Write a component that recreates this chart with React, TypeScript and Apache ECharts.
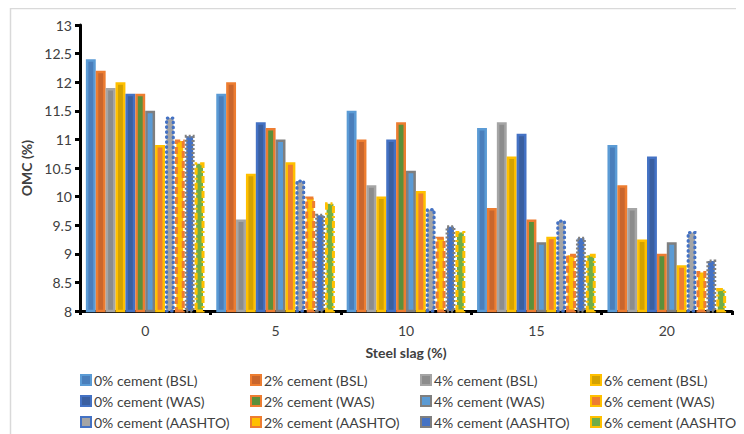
import React, { useEffect, useRef } from "react";
import * as echarts from "echarts";

// Steel slag content (%) on the category axis
const slagLevels = ["0", "5", "10", "15", "20"];

// Optimum moisture content (%) per compaction method and cement content
const bsl0 = [12.4, 11.8, 11.5, 11.2, 10.9];
const bsl2 = [12.2, 12.0, 11.0, 9.8, 10.2];
const bsl4 = [11.9, 9.6, 10.2, 11.3, 9.8];
const bsl6 = [12.0, 10.4, 10.0, 10.7, 9.25];
const was0 = [11.8, 11.3, 11.0, 11.1, 10.7];
const was2 = [11.8, 11.2, 11.3, 9.6, 9.0];
const was4 = [11.5, 11.0, 10.45, 9.2, 9.2];
const was6 = [10.9, 10.6, 10.1, 9.3, 8.8];
const aashto0 = [11.4, 10.3, 9.8, 9.6, 9.4];
const aashto2 = [11.0, 10.0, 9.3, 9.0, 8.7];
const aashto4 = [11.08, 9.7, 9.5, 9.3, 8.9];
const aashto6 = [10.6, 9.9, 9.4, 9.0, 8.4];

const yTicks = { min: 8, max: 13, interval: 0.5 };

type Style = { fill: string; stroke: string; dash: "solid" | number[]; cap?: "round" | "butt"; width?: number };

const seriesDefs: { name: string; data: number[]; style: Style }[] = [
  { name: "0% cement (BSL)", data: bsl0, style: { fill: "#4A7EBB", stroke: "#5B9BD5", dash: "solid" } },
  { name: "2% cement (BSL)", data: bsl2, style: { fill: "#C9662D", stroke: "#ED7D31", dash: "solid" } },
  { name: "4% cement (BSL)", data: bsl4, style: { fill: "#8C8C8C", stroke: "#A5A5A5", dash: "solid" } },
  { name: "6% cement (BSL)", data: bsl6, style: { fill: "#D4A200", stroke: "#FFC000", dash: "solid" } },
  { name: "0% cement (WAS)", data: was0, style: { fill: "#3A5FA0", stroke: "#4472C4", dash: "solid" } },
  { name: "2% cement (WAS)", data: was2, style: { fill: "#5B8F3A", stroke: "#ED7D31", dash: "solid" } },
  { name: "4% cement (WAS)", data: was4, style: { fill: "#5B9BD5", stroke: "#7F7F7F", dash: "solid" } },
  { name: "6% cement (WAS)", data: was6, style: { fill: "#ED7D31", stroke: "#FFC000", dash: "solid" } },
  { name: "0% cement (AASHTO)", data: aashto0, style: { fill: "#A5A5A5", stroke: "#4472C4", dash: [0.5, 4.5], cap: "round", width: 3.2 } },
  { name: "2% cement (AASHTO)", data: aashto2, style: { fill: "#FFC000", stroke: "#ED7D31", dash: [7, 3], width: 3 } },
  { name: "4% cement (AASHTO)", data: aashto4, style: { fill: "#4472C4", stroke: "#7F7F7F", dash: [2, 2], width: 3 } },
  { name: "6% cement (AASHTO)", data: aashto6, style: { fill: "#70AD47", stroke: "#FFC000", dash: [7, 3, 2, 3], width: 3 } },
];

const FONT = "Lato, 'Open Sans', sans-serif";
const TEXT = "#404040";

export default function App() {
  const ref = useRef<HTMLDivElement>(null);

  useEffect(() => {
    if (!ref.current) return;
    const chart = echarts.init(ref.current, undefined, { renderer: "svg" });

    // Four legend columns, three rows each (BSL, WAS, AASHTO)
    const legendCols = [0, 1, 2, 3].map((c) => ({
      orient: "vertical" as const,
      left: [72, 242, 412, 582][c],
      top: 365,
      padding: 0,
      itemGap: 7,
      itemWidth: 10,
      itemHeight: 10,
      icon: "rect",
      textStyle: { fontFamily: FONT, fontSize: 14, color: TEXT, padding: [0, 0, 0, -2] },
      data: [0, 4, 8].map((r) => seriesDefs[r + c].name),
    }));

    chart.setOption({
      animation: false,
      backgroundColor: "#ffffff",
      textStyle: { fontFamily: FONT },
      graphic: [
        {
          type: "rect",
          shape: { x: 2.5, y: 0.5, width: 760, height: 460 },
          style: { fill: "none", stroke: "#D9D9D9", lineWidth: 1.5 },
          silent: true,
        },
      ],
      legend: legendCols,
      grid: { left: 72, right: 12, top: 17, bottom: 123 },
      xAxis: {
        type: "category",
        data: slagLevels,
        name: "Steel slag (%)",
        nameLocation: "middle",
        nameGap: 34,
        nameTextStyle: { fontFamily: FONT, fontSize: 14, fontWeight: "bold", color: TEXT },
        axisLine: { lineStyle: { color: "#000", width: 3 } },
        axisTick: { show: true, alignWithLabel: false, length: 4, lineStyle: { color: "#000", width: 3 } },
        axisLabel: { fontFamily: FONT, fontSize: 14, color: TEXT, margin: 12 },
      },
      yAxis: {
        type: "value",
        min: yTicks.min,
        max: yTicks.max,
        interval: yTicks.interval,
        name: "OMC (%)",
        nameLocation: "middle",
        nameGap: 44,
        nameTextStyle: { fontFamily: FONT, fontSize: 14, fontWeight: "bold", color: TEXT },
        axisLine: { show: true, lineStyle: { color: "#000", width: 3 } },
        axisTick: { show: true, length: 5, lineStyle: { color: "#000", width: 3 } },
        axisLabel: { fontFamily: FONT, fontSize: 14, color: TEXT, margin: 8 },
        splitLine: { show: false },
      },
      series: seriesDefs.map((s) => ({
        name: s.name,
        type: "bar",
        data: s.data,
        barGap: "0%",
        barCategoryGap: "9%",
        itemStyle: {
          color: s.style.fill,
          borderColor: s.style.stroke,
          borderWidth: s.style.width || 2.5,
          borderType: s.style.dash,
          borderCap: s.style.cap || "butt",
        },
      })),
    });

    return () => chart.dispose();
  }, []);

  return <div ref={ref} style={{ width: 736, height: 426 }} />;
}
